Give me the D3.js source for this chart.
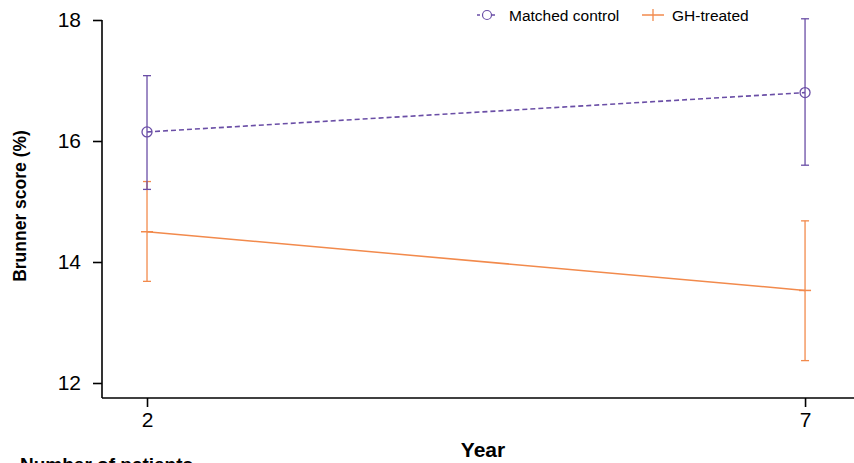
<!DOCTYPE html>
<html>
<head>
<meta charset="utf-8">
<script src="https://cdn.jsdelivr.net/npm/d3@7"></script>
<style>
  body { margin: 0; background: #fff; }
  svg { font-family: "Liberation Sans", Arial, sans-serif; }
</style>
</head>
<body>
<div id="chart"></div>
<script>
// data
const years = [2, 7];
const seriesNames = ["Matched control", "GH-treated"];
const controlMean = [16.15, 16.8];
const controlLow = [15.2, 15.6];
const controlHigh = [17.08, 18.02];
const ghMean = [14.5, 13.53];
const ghLow = [13.68, 12.37];
const ghHigh = [15.33, 14.68];
const yTicks = [12, 14, 16, 18];
const xTicks = [2, 7];

const width = 854, height = 463;
const purple = "#6a4ea6", orange = "#f28a4c";

let svg = d3.select("#chart").append("svg")
    .attr("width", width)
    .attr("height", height);

let xScale = d3.scaleLinear().domain([1.658, 7.372]).range([102, 854]);
let yScale = d3.scaleLinear().domain([12, 18]).range([383, 20]);

// y axis
let yAx = svg.append("g")
    .attr("transform", "translate(102,0)")
    .call(d3.axisLeft(yScale).tickValues(yTicks).tickSize(9).tickPadding(12).tickFormat(d3.format("d")));
yAx.select(".domain").remove();
yAx.append("line")
    .attr("x1", 0).attr("x2", 0)
    .attr("y1", yScale(18)).attr("y2", 398)
    .attr("stroke", "#000").attr("stroke-width", 1.6);

// x axis
let xAx = svg.append("g")
    .attr("transform", "translate(0,398)")
    .call(d3.axisBottom(xScale).tickValues(xTicks).tickSize(9).tickPadding(5).tickFormat(d3.format("d")));
xAx.select(".domain").remove();
xAx.append("line")
    .attr("x1", 102).attr("x2", 854)
    .attr("y1", 0).attr("y2", 0)
    .attr("stroke", "#000").attr("stroke-width", 1.6);

svg.selectAll(".tick line").attr("stroke", "#000").attr("stroke-width", 1.6);
svg.selectAll(".tick text").attr("font-size", 21).attr("fill", "#000")
    .attr("font-family", "Liberation Sans, Arial, sans-serif");

// titles
svg.append("text")
    .attr("transform", "translate(26,206) rotate(-90)")
    .attr("text-anchor", "middle")
    .attr("font-size", 17.5).attr("font-weight", "bold")
    .text("Brunner score (%)");

svg.append("text")
    .attr("x", 483).attr("y", 457)
    .attr("text-anchor", "middle")
    .attr("font-size", 21).attr("font-weight", "bold")
    .text("Year");

svg.append("text")
    .attr("x", 20).attr("y", 471)
    .attr("font-size", 19).attr("font-weight", "bold")
    .text("Number of patients");

// build series rows
let control = years.map((y, i) => ({year: y, mean: controlMean[i], low: controlLow[i], high: controlHigh[i]}));
let gh = years.map((y, i) => ({year: y, mean: ghMean[i], low: ghLow[i], high: ghHigh[i]}));

let lineGen = d3.line()
    .x(d => xScale(d.year))
    .y(d => yScale(d.mean));

function drawErrors(data, color) {
    let g = svg.append("g").attr("stroke", color).attr("stroke-width", 1.3);
    g.selectAll(".bar").data(data).enter().append("line")
        .attr("x1", d => xScale(d.year)).attr("x2", d => xScale(d.year))
        .attr("y1", d => yScale(d.low)).attr("y2", d => yScale(d.high));
    g.selectAll(".capHi").data(data).enter().append("line")
        .attr("x1", d => xScale(d.year) - 4).attr("x2", d => xScale(d.year) + 4)
        .attr("y1", d => yScale(d.high)).attr("y2", d => yScale(d.high));
    g.selectAll(".capLo").data(data).enter().append("line")
        .attr("x1", d => xScale(d.year) - 4).attr("x2", d => xScale(d.year) + 4)
        .attr("y1", d => yScale(d.low)).attr("y2", d => yScale(d.low));
}

// GH-treated
drawErrors(gh, orange);
svg.append("path")
    .attr("d", lineGen(gh))
    .attr("fill", "none").attr("stroke", orange).attr("stroke-width", 1.5);
svg.selectAll(".ghMark").data(gh).enter().append("line")
    .attr("x1", d => xScale(d.year) - 6).attr("x2", d => xScale(d.year) + 6)
    .attr("y1", d => yScale(d.mean)).attr("y2", d => yScale(d.mean))
    .attr("stroke", orange).attr("stroke-width", 1.5);

// Matched control
drawErrors(control, purple);
svg.append("path")
    .attr("d", lineGen(control))
    .attr("fill", "none").attr("stroke", purple).attr("stroke-width", 1.6)
    .attr("stroke-dasharray", "5,3");
svg.selectAll(".ctrlMark").data(control).enter().append("circle")
    .attr("cx", d => xScale(d.year)).attr("cy", d => yScale(d.mean))
    .attr("r", 5)
    .attr("fill", "none").attr("stroke", purple).attr("stroke-width", 1.3);

// legend
let legend = svg.append("g").attr("font-size", 15.5);
legend.append("line")
    .attr("x1", 477).attr("x2", 497).attr("y1", 15).attr("y2", 15)
    .attr("stroke", purple).attr("stroke-width", 1.3).attr("stroke-dasharray", "3,2");
legend.append("circle")
    .attr("cx", 487).attr("cy", 15).attr("r", 4.5)
    .attr("fill", "#fff").attr("stroke", purple).attr("stroke-width", 1.2);
legend.append("text").attr("x", 509).attr("y", 20.5).text(seriesNames[0]);

legend.append("line")
    .attr("x1", 642).attr("x2", 664).attr("y1", 15).attr("y2", 15)
    .attr("stroke", orange).attr("stroke-width", 1.5);
legend.append("line")
    .attr("x1", 653).attr("x2", 653).attr("y1", 9).attr("y2", 21)
    .attr("stroke", orange).attr("stroke-width", 1.3);
legend.append("text").attr("x", 672).attr("y", 20.5).text(seriesNames[1]);
</script>
</body>
</html>
